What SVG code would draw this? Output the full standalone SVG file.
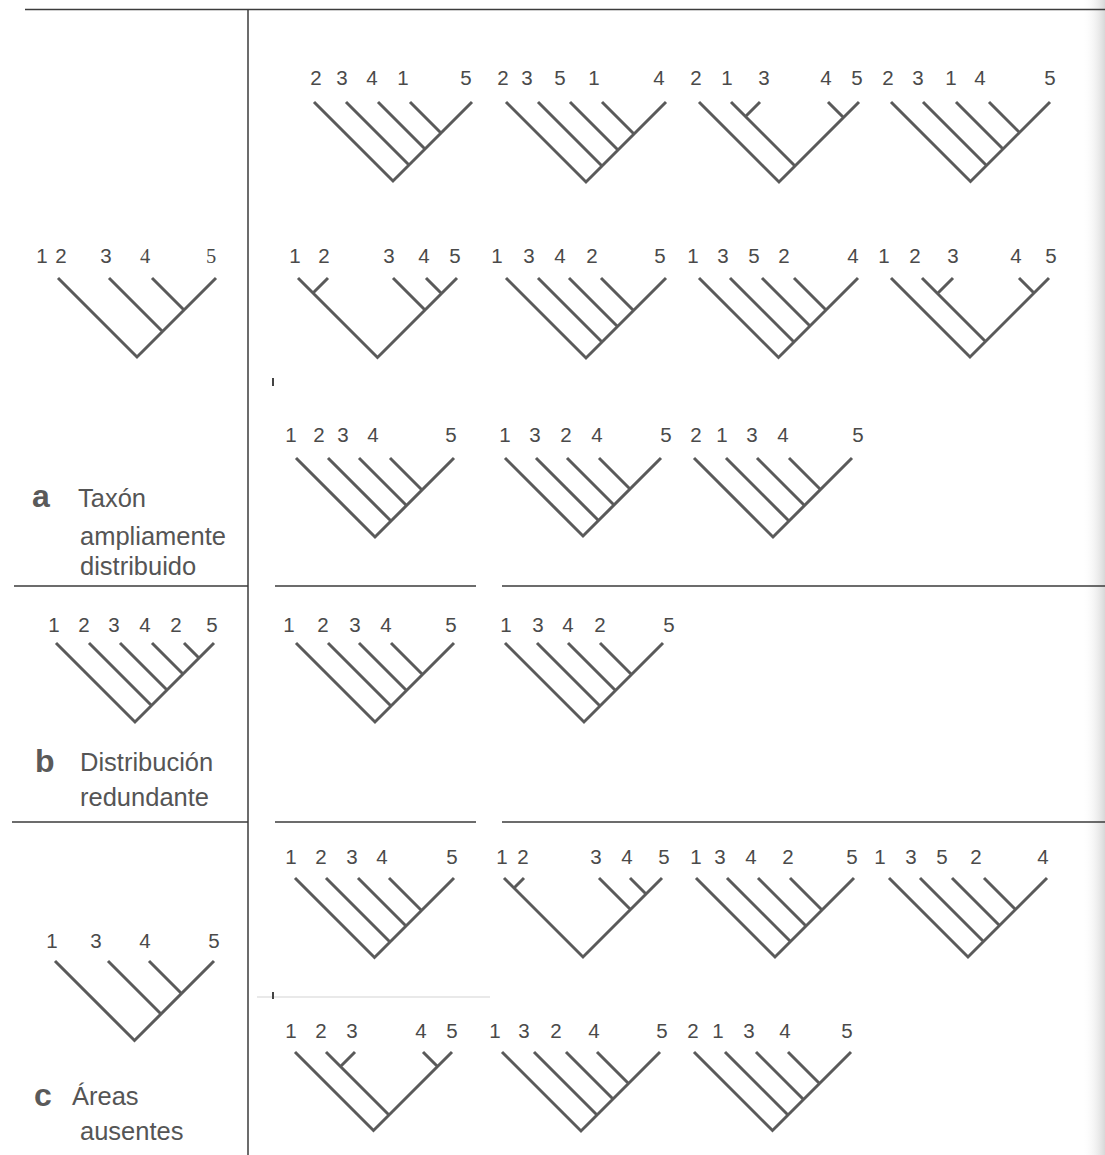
<svg xmlns="http://www.w3.org/2000/svg" width="1105" height="1155" viewBox="0 0 1105 1155">
<style>
.br{stroke:#5a5a5a;stroke-width:3;fill:none;stroke-linecap:butt}
.tb{stroke:#3c3c3c;stroke-width:1.5;fill:none}
.lb{font-family:"Liberation Sans",Arial,sans-serif;font-size:20.5px;fill:#4a4a4a;text-anchor:middle}
.sf{font-family:"Liberation Serif","Times New Roman",serif;font-size:20.5px}
.cap{font-family:"Liberation Sans",Arial,sans-serif;font-size:25.5px;fill:#555}
.let{font-family:"Liberation Sans",Arial,sans-serif;font-size:32px;font-weight:bold;fill:#5a5a5a}
</style>
<defs>
<linearGradient id="edge" x1="0" x2="1" y1="0" y2="0">
<stop offset="0" stop-color="#ffffff" stop-opacity="0"/>
<stop offset="1" stop-color="#d8d8d8"/>
</linearGradient>
</defs>
<rect width="1105" height="1155" fill="#ffffff"/>
<rect x="1082" y="0" width="23" height="1155" fill="url(#edge)"/>
<g id="table">
<path class="tb" d="M25 9.5H1105M248 9V1155M14 586H248M275 586H476M502 586H1105M12 822H248M275 822H476M502 822H1105"/>
<path stroke="#d4d4d4" stroke-width="1.2" d="M257 997H490"/>
<path stroke="#444" stroke-width="2" d="M273 378V386M273 992V999"/>
</g>
<g id="captions">
<text class="let" x="32" y="507">a</text><text class="cap" x="78" y="507">Taxón</text>
<text class="cap" x="80" y="545">ampliamente</text><text class="cap" x="80" y="575">distribuido</text>
<text class="let" x="35" y="772">b</text><text class="cap" x="80" y="771">Distribución</text>
<text class="cap" x="80" y="806">redundante</text>
<text class="let" x="34" y="1106">c</text><text class="cap" x="72" y="1105">Áreas</text>
<text class="cap" x="80" y="1140">ausentes</text>
</g>
<g id="connectors">
<!-- section a row 1 -->
<path class="br" d="M314 102L393 181L472 102M346 102L409 165M378 102L425 149M410 102L441 133"/>
<path class="br" d="M506 102L586 182L666 102M538 102L602 166M570 102L618 150M602 102L634 134"/>
<path class="br" d="M699 102L779 182L859 102M731 102L795 166M760 102L745.5 116.5M828 102L843.5 117.5"/>
<path class="br" d="M891 102L970.5 181.5L1050 102M923 102L986.5 165.5M956 102L1003 149M989 102L1019.5 132.5"/>
<!-- section a row 2 -->
<path class="br" d="M58 278L137 357L216 278M109 278L162.5 331.5M152 278L184 310"/>
<path class="br" d="M298 278L377.5 357.5L457 278M328 278L313 293M393 278L425 310M426 278L441.5 293.5"/>
<path class="br" d="M506 278L586 358L666 278M538 278L602 342M569 278L617.5 326.5M601 278L633.5 310.5"/>
<path class="br" d="M699 278L778.5 357.5L858 278M730 278L794 342M762 278L810 326M794 278L826 310"/>
<path class="br" d="M891 278L970 357L1049 278M922 278L985.5 341.5M953 278L937.5 293.5M1019 278L1034 293"/>
<!-- section a row 3 -->
<path class="br" d="M296 458L375 537L454 458M328 458L391 521M359 458L406.5 505.5M390 458L422 490"/>
<path class="br" d="M505 458L583 536L661 458M536 458L598.5 520.5M567 458L614 505M599 458L630 489"/>
<path class="br" d="M694 458L773 537L852 458M726 458L789 521M757 458L804.5 505.5M789 458L820.5 489.5"/>
<!-- section b -->
<path class="br" d="M56 643L135 722L214 643M89 643L151.5 705.5M120 643L167 690M152 643L183 674M184 643L199 658"/>
<path class="br" d="M296 643L375 722L454 643M328 643L391 706M359 643L406.5 690.5M391 643L422.5 674.5"/>
<path class="br" d="M505 643L584 722L663 643M537 643L600 706M568 643L615.5 690.5M600 643L631.5 674.5"/>
<!-- section c -->
<path class="br" d="M55 961L134.5 1040.5L214 961M108 961L161 1014M149 961L181.5 993.5"/>
<path class="br" d="M295 878L374.5 957.5L454 878M326 878L390 942M358 878L406 926M389 878L421.5 910.5"/>
<path class="br" d="M504 878L583 957L662 878M524 878L514 888M599 878L630.5 909.5M630 878L646 894"/>
<path class="br" d="M696 878L775 957L854 878M727 878L790.5 941.5M758 878L806 926M790 878L822 910"/>
<path class="br" d="M889 878L968 957L1047 878M920 878L983.5 941.5M952 878L999.5 925.5M984 878L1015.5 909.5"/>
<path class="br" d="M295 1052L373.5 1130.5L452 1052M326 1052L389 1115M355 1052L340.5 1066.5M423 1052L437.5 1066.5"/>
<path class="br" d="M502 1052L581 1131L660 1052M534 1052L597 1115M566 1052L613 1099M597 1052L628.5 1083.5"/>
<path class="br" d="M694 1052L772.5 1130.5L851 1052M725 1052L788 1115M756 1052L803.5 1099.5M788 1052L819.5 1083.5"/>
</g>
<g id="tree-a1-1" class="lb"><text x="316" y="85">2</text><text x="342" y="85">3</text><text x="372" y="85">4</text><text x="403" y="85">1</text><text x="466" y="85">5</text></g>
<g id="tree-a1-2" class="lb"><text x="503" y="85">2</text><text x="527" y="85">3</text><text x="560" y="85">5</text><text x="594" y="85">1</text><text x="659" y="85">4</text></g>
<g id="tree-a1-3" class="lb"><text x="696" y="85">2</text><text x="727" y="85">1</text><text x="764" y="85">3</text><text x="826" y="85">4</text><text x="857" y="85">5</text></g>
<g id="tree-a1-4" class="lb"><text x="888" y="85">2</text><text x="918" y="85">3</text><text x="951" y="85">1</text><text x="980" y="85">4</text><text x="1050" y="85">5</text></g>
<g id="tree-a-main" class="lb"><text x="42" y="263">1</text><text x="61" y="263">2</text><text x="106" y="263">3</text><text class="sf" x="145" y="263">4</text><text class="sf" x="211" y="263">5</text></g>
<g id="tree-a2-1" class="lb"><text x="295" y="263">1</text><text x="324" y="263">2</text><text x="389" y="263">3</text><text x="424" y="263">4</text><text x="455" y="263">5</text></g>
<g id="tree-a2-2" class="lb"><text x="497" y="263">1</text><text x="529" y="263">3</text><text x="560" y="263">4</text><text x="592" y="263">2</text><text x="660" y="263">5</text></g>
<g id="tree-a2-3" class="lb"><text x="693" y="263">1</text><text x="723" y="263">3</text><text x="754" y="263">5</text><text x="784" y="263">2</text><text x="853" y="263">4</text></g>
<g id="tree-a2-4" class="lb"><text x="884" y="263">1</text><text x="915" y="263">2</text><text x="953" y="263">3</text><text x="1016" y="263">4</text><text x="1051" y="263">5</text></g>
<g id="tree-a3-1" class="lb"><text x="291" y="442">1</text><text x="319" y="442">2</text><text x="343" y="442">3</text><text x="373" y="442">4</text><text x="451" y="442">5</text></g>
<g id="tree-a3-2" class="lb"><text x="505" y="442">1</text><text x="535" y="442">3</text><text x="566" y="442">2</text><text x="597" y="442">4</text><text x="666" y="442">5</text></g>
<g id="tree-a3-3" class="lb"><text x="696" y="442">2</text><text x="722" y="442">1</text><text x="752" y="442">3</text><text x="783" y="442">4</text><text x="858" y="442">5</text></g>
<g id="tree-b-main" class="lb"><text x="54" y="632">1</text><text x="84" y="632">2</text><text x="114" y="632">3</text><text x="145" y="632">4</text><text x="176" y="632">2</text><text x="212" y="632">5</text></g>
<g id="tree-b-1" class="lb"><text x="289" y="632">1</text><text x="323" y="632">2</text><text x="355" y="632">3</text><text x="386" y="632">4</text><text x="451" y="632">5</text></g>
<g id="tree-b-2" class="lb"><text x="506" y="632">1</text><text x="538" y="632">3</text><text x="568" y="632">4</text><text x="600" y="632">2</text><text x="669" y="632">5</text></g>
<g id="tree-c-main" class="lb"><text x="52" y="948">1</text><text x="96" y="948">3</text><text x="145" y="948">4</text><text x="214" y="948">5</text></g>
<g id="tree-c1-1" class="lb"><text x="291" y="864">1</text><text x="321" y="864">2</text><text x="352" y="864">3</text><text x="382" y="864">4</text><text x="452" y="864">5</text></g>
<g id="tree-c1-2" class="lb"><text x="502" y="864">1</text><text x="523" y="864">2</text><text x="596" y="864">3</text><text x="627" y="864">4</text><text x="664" y="864">5</text></g>
<g id="tree-c1-3" class="lb"><text x="696" y="864">1</text><text x="720" y="864">3</text><text x="751" y="864">4</text><text x="788" y="864">2</text><text x="852" y="864">5</text></g>
<g id="tree-c1-4" class="lb"><text x="880" y="864">1</text><text x="911" y="864">3</text><text x="942" y="864">5</text><text x="976" y="864">2</text><text x="1043" y="864">4</text></g>
<g id="tree-c2-1" class="lb"><text x="291" y="1038">1</text><text x="321" y="1038">2</text><text x="352" y="1038">3</text><text x="421" y="1038">4</text><text x="452" y="1038">5</text></g>
<g id="tree-c2-2" class="lb"><text x="495" y="1038">1</text><text x="524" y="1038">3</text><text x="556" y="1038">2</text><text x="594" y="1038">4</text><text x="662" y="1038">5</text></g>
<g id="tree-c2-3" class="lb"><text x="693" y="1038">2</text><text x="718" y="1038">1</text><text x="749" y="1038">3</text><text x="785" y="1038">4</text><text x="847" y="1038">5</text></g>
</svg>
